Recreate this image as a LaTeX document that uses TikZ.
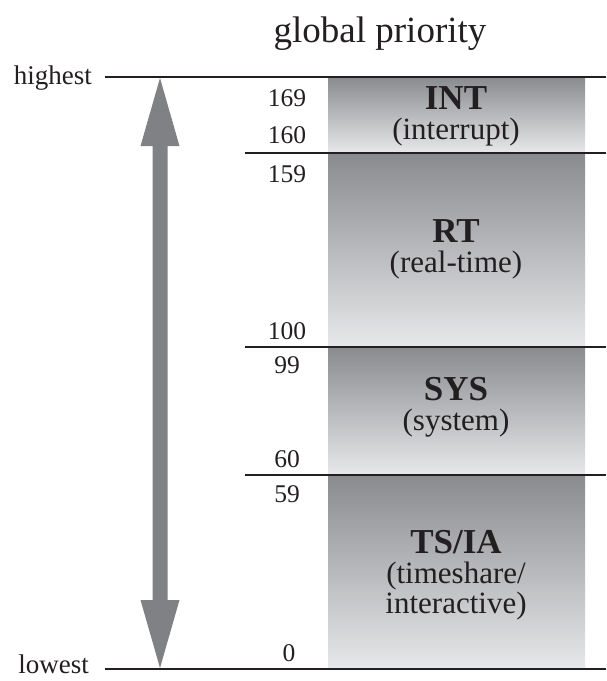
\documentclass[tikz,border=0pt]{standalone}
\usepackage{fontspec}
\setmainfont{Liberation Serif}
\usetikzlibrary{calc}
\definecolor{bandtop}{HTML}{8A8B8E}
\definecolor{bandmid}{HTML}{D2D3D5}
\definecolor{bandbot}{HTML}{E7E8EA}
\definecolor{arrowgray}{HTML}{808184}
\definecolor{ink}{HTML}{231F20}
\tikzset{
  band/.style={top color=bandtop, middle color=bandmid, bottom color=bandbot, draw=none},
  rule/.style={draw=ink, line width=1.3pt},
  num/.style={anchor=base, inner sep=0pt, text=ink, font=\fontsize{25.5}{28}\selectfont},
  side/.style={anchor=base east, inner sep=0pt, text=ink, font=\fontsize{27}{30}\selectfont},
  cls/.style={anchor=base, inner sep=0pt, text=ink, font=\fontsize{35}{38}\selectfont\bfseries},
  sub/.style={anchor=base, inner sep=0pt, text=ink, font=\fontsize{31}{34}\selectfont},
  ttl/.style={anchor=base, inner sep=0pt, text=ink, font=\fontsize{37}{40}\selectfont},
}
\begin{document}
\begin{tikzpicture}[x=1pt,y=-1pt]
\useasboundingbox (0,0) rectangle (606,681);
% bands
\shade[band] (328,77) rectangle (585,153);
\shade[band] (328,153) rectangle (585,347);
\shade[band] (328,347) rectangle (585,475);
\shade[band] (328,475) rectangle (585,669);
% rules
\coordinate (hiL) at (105,77);  \coordinate (hiR) at (606,77);
\coordinate (aL) at (245,153);  \coordinate (aR) at (606,153);
\coordinate (bL) at (245,347);  \coordinate (bR) at (606,347);
\coordinate (cL) at (245,475);  \coordinate (cR) at (606,475);
\coordinate (loL) at (105,669); \coordinate (loR) at (606,669);
\draw[rule] (hiL) -- (hiR);
\draw[rule] (aL) -- (aR);
\draw[rule] (bL) -- (bR);
\draw[rule] (cL) -- (cR);
\draw[rule] (loL) -- (loR);
% double arrow
\coordinate (atop) at (160,78);
\coordinate (abot) at (160,668);
\fill[arrowgray] (atop) -- ($(atop)+(19.5,68)$) -- ($(atop)+(7.5,68)$)
  -- ($(abot)+(7.5,-68)$) -- ($(abot)+(19.5,-68)$) -- (abot)
  -- ($(abot)+(-19.5,-68)$) -- ($(abot)+(-7.5,-68)$)
  -- ($(atop)+(-7.5,68)$) -- ($(atop)+(-19.5,68)$) -- cycle;
% texts
\node[ttl] (title) at (380,42) {global priority};
\node[side] (hi) at (92,84) {highest};
\node[side] (lo) at (89,673) {lowest};
\node[num] (n169) at (287,106) {169};
\node[num] (n160) at (287,143) {160};
\node[num] (n159) at (287,182) {159};
\node[num] (n100) at (287,339) {100};
\node[num] (n99) at (287,373) {99};
\node[num] (n60) at (287,467) {60};
\node[num] (n59) at (287,502) {59};
\node[num] (n0) at (289,661) {0};
\node[cls] (int) at (456,109) {INT};
\node[sub] (intd) at (456,139) {(interrupt)};
\node[cls] (rt) at (456,242) {RT};
\node[sub] (rtd) at (456,272) {(real-time)};
\node[cls] (sys) at (456,400) {SYS};
\node[sub] (sysd) at (456,430) {(system)};
\node[cls] (ts) at (456,553) {TS/IA};
\node[sub] (tsd1) at (456,583) {(timeshare/};
\node[sub] (tsd2) at (456,613) {interactive)};
\end{tikzpicture}
\end{document}
